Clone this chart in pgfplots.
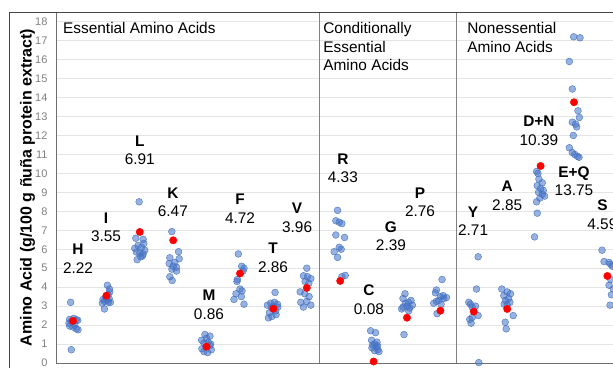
\documentclass[border=0pt]{standalone}
\usepackage{pgfplots}
\pgfplotsset{compat=1.18}
\usepackage{pgfplotstable}
\usepackage{fontspec}
\setmainfont{Liberation Sans}
\definecolor{dotblue}{RGB}{68,114,196}
\definecolor{gridc}{RGB}{228,228,228}
\definecolor{tickc}{RGB}{128,128,128}
\definecolor{axisc}{RGB}{110,110,110}
\definecolor{framec}{RGB}{70,70,70}
\tikzset{
  lab/.style={align=center, inner sep=0pt, font=\fontsize{15.4}{18.5}\selectfont},
  sect/.style={anchor=north west, align=left, inner sep=0pt, font=\fontsize{15.4}{18.5}\selectfont},
}

% blue dots: x = category index + jitter, y = value
\pgfplotstableread{
x y
-0.07 3.2
0.02 2.35
-0.10 2.3
0.10 2.28
0.14 2.25
-0.05 2.2
-0.12 2.1
0.05 2.0
-0.10 1.95
0.00 1.9
0.10 1.8
0.15 1.75
-0.05 0.7
1.03 4.1
1.09 3.9
1.10 3.75
1.05 3.6
0.98 3.45
1.08 3.4
0.90 3.35
1.02 3.3
0.94 3.25
1.12 3.2
1.06 3.2
0.88 3.15
0.94 2.85
1.98 8.5
1.88 6.58
2.10 6.52
2.12 6.3
1.95 6.2
2.05 6.1
1.85 6.05
2.15 5.95
1.90 5.85
2.00 5.8
2.10 5.75
2.08 5.65
2.03 5.6
1.92 5.45
2.96 6.93
3.16 5.87
2.90 5.55
3.18 5.5
3.05 5.3
2.88 5.25
3.00 5.1
3.10 5.05
2.96 4.95
3.10 4.85
2.90 4.55
2.97 4.35
3.95 1.5
4.10 1.42
4.00 1.3
3.85 1.2
4.05 1.1
3.92 1.05
4.12 1.0
4.10 0.92
3.98 0.85
3.86 0.75
4.14 0.7
3.92 0.6
4.03 0.55
4.95 5.75
5.05 5.1
5.12 5.0
5.09 4.85
4.92 4.4
4.91 4.3
5.00 3.9
5.06 3.8
4.88 3.65
5.04 3.5
4.82 3.35
5.12 3.1
6.05 3.72
6.03 3.2
5.92 3.15
6.12 3.1
5.82 3.05
6.00 3.0
6.13 2.95
5.95 2.9
6.07 2.75
5.88 2.65
6.08 2.55
5.95 2.45
5.85 2.38
7.00 5.0
6.90 4.6
7.02 4.55
7.12 4.45
6.95 4.3
7.06 4.2
6.80 3.75
6.94 3.65
7.07 3.5
7.00 3.25
6.82 3.2
7.12 3.05
6.90 2.95
7.92 8.05
7.87 7.5
7.97 7.42
8.05 7.35
7.87 6.75
8.13 6.62
7.97 6.1
8.03 6.0
7.82 5.87
7.92 5.57
8.15 4.62
8.05 4.55
8.91 1.7
9.06 1.6
8.94 1.2
9.10 1.1
9.03 1.0
8.97 0.95
9.12 0.9
9.08 0.85
8.95 0.8
9.12 0.7
9.03 0.65
9.16 0.6
9.94 3.65
9.88 3.4
10.12 3.3
10.04 3.2
9.95 3.15
10.16 3.05
10.00 3.0
9.88 2.95
10.08 2.9
9.84 2.85
10.05 2.75
9.91 1.5
11.05 4.4
10.88 3.85
10.85 3.7
11.08 3.55
11.00 3.5
11.18 3.45
11.10 3.4
10.95 3.3
10.88 3.25
10.80 3.15
11.02 3.1
10.90 2.6
12.13 5.6
12.08 3.9
11.85 3.2
11.90 3.1
12.05 3.0
11.95 2.95
12.13 2.5
11.95 2.4
11.88 2.3
11.92 2.1
12.15 0.02
12.84 3.9
13.00 3.75
13.10 3.65
12.90 3.55
13.04 3.4
12.95 3.3
13.08 3.2
12.91 3.1
13.00 3.05
13.18 2.5
12.94 2.15
12.97 1.8
13.88 10.1
13.92 10.0
13.95 9.7
14.05 9.5
13.90 9.35
14.00 9.2
14.08 9.1
13.94 9.0
14.05 8.9
14.12 8.8
13.98 8.7
13.88 8.5
13.90 7.9
13.82 6.65
14.99 17.2
15.18 17.15
14.86 15.9
14.95 14.45
15.12 13.3
15.16 12.95
14.95 12.7
15.05 12.6
15.08 12.45
14.98 12.0
14.86 11.35
14.95 11.1
15.02 11.0
15.10 10.9
15.15 10.85
15.84 5.95
15.90 5.35
16.05 5.3
16.10 5.2
16.15 5.1
16.10 4.4
16.05 4.1
16.18 3.9
16.12 3.6
16.08 3.05
}\bluedots

% red dots: reported value of each amino acid
\pgfplotstableread{
x y
0 2.22
1 3.55
2 6.91
3 6.47
4 0.86
5 4.72
6 2.86
7 3.96
8 4.33
9 0.08
10 2.39
11 2.76
12 2.71
13 2.85
14 10.39
15 13.75
16 4.59
}\reddots

\begin{document}
\begin{tikzpicture}
\begin{axis}[
  at={(0,0)}, anchor=south west,
  scale only axis, width=557pt, height=351pt,
  xmin=-0.509, xmax=16.168, ymin=0, ymax=18.51,
  clip=false,
  axis line style={draw=none},
  xtick=\empty,
  ytick={0,1,...,18},
  major tick length=0pt,
  ymajorgrids,
  grid style={gridc, line width=0.6pt},
  /pgf/number format/assume math mode=true,
  yticklabel style={font=\fontsize{11}{13}\selectfont, text=tickc, xshift=-5pt},
]
\draw[axisc, line width=0.9pt] (axis cs:-0.509,0) -- (axis cs:16.3,0);
\draw[axisc, line width=0.9pt] (axis cs:-0.509,0) -- (axis cs:-0.509,18.51);
\draw[tickc, line width=1pt] (axis cs:7.37,0) -- (axis cs:7.37,18.51);
\draw[tickc, line width=1pt] (axis cs:11.47,0) -- (axis cs:11.47,18.51);

\addplot[only marks, mark=*, mark size=3.4pt, color=dotblue,
  mark options={solid, draw=none, fill=dotblue, fill opacity=0.55}] table {\bluedots};
\addplot[only marks, mark=*, mark size=3.7pt, color=red,
  mark options={solid, draw=none, fill=red}] table {\reddots};

\node[lab] at (axis cs:0.15,5.51) {\textbf{H}\\2.22};
\node[lab] at (axis cs:0.99,7.17) {\textbf{I}\\3.55};
\node[lab] at (axis cs:2.00,11.21) {\textbf{L}\\6.91};
\node[lab] at (axis cs:2.99,8.47) {\textbf{K}\\6.47};
\node[lab] at (axis cs:4.07,3.06) {\textbf{M}\\0.86};
\node[lab] at (axis cs:5.00,8.15) {\textbf{F}\\4.72};
\node[lab] at (axis cs:5.99,5.54) {\textbf{T}\\2.86};
\node[lab] at (axis cs:6.71,7.67) {\textbf{V}\\3.96};
\node[lab] at (axis cs:8.08,10.28) {\textbf{R}\\4.33};
\node[lab] at (axis cs:8.86,3.35) {\textbf{C}\\0.08};
\node[lab] at (axis cs:9.52,6.70) {\textbf{G}\\2.39};
\node[lab] at (axis cs:10.39,8.47) {\textbf{P}\\2.76};
\node[lab] at (axis cs:11.98,7.49) {\textbf{Y}\\2.71};
\node[lab] at (axis cs:13.00,8.81) {\textbf{A}\\2.85};
\node[lab] at (axis cs:13.95,12.24) {\textbf{D+N}\\10.39};
\node[lab] at (axis cs:15.00,9.60) {\textbf{E+Q}\\13.75};
\node[lab] at (axis cs:15.85,7.81) {\textbf{S}\\4.59};

\node[sect] at (axis cs:-0.30,17.95) {Essential Amino Acids};
\node[sect] at (axis cs:7.49,17.95) {Conditionally\\Essential\\Amino Acids};
\node[sect] at (axis cs:11.80,17.95) {Nonessential\\Amino Acids};
\end{axis}
\draw[framec, line width=0.9pt] (-47pt,-20pt) -- (-47pt,351pt) -- (620pt,351pt);
\node[rotate=90, inner sep=0pt, font=\bfseries\fontsize{16}{19}\selectfont] at (-28.5pt,175.5pt)
  {Amino Acid (g/100 g ñuña protein extract)};
\pgfresetboundingbox
\useasboundingbox (-56pt,-4pt) rectangle (557pt,363pt);
\end{tikzpicture}
\end{document}
